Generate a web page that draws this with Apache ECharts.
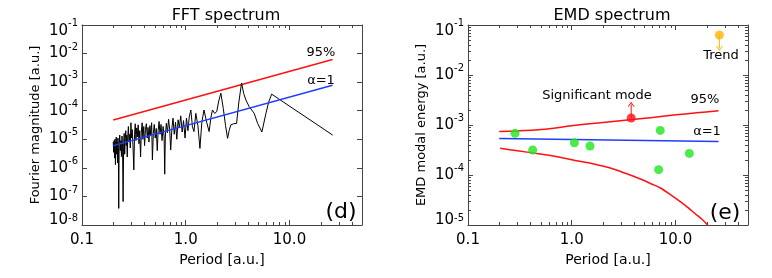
<!DOCTYPE html>
<html><head><meta charset="utf-8">
<script src="https://cdn.jsdelivr.net/npm/echarts@6/dist/echarts.min.js"></script>
<style>html,body{margin:0;padding:0;background:#fff}#c{width:772px;height:278px}</style>
</head><body><div id="c"></div>
<script>
// ---------- data ----------
const fftPeriod = [
 0.200,0.202,0.204,0.206,0.208,0.210,0.212,0.214,0.216,0.218,
 0.220,0.222,0.224,0.226,0.228,0.231,0.234,0.237,0.240,0.243,
 0.246,0.249,0.252,0.255,0.258,0.261,0.264,0.267,0.270,0.273,
 0.276,0.280,0.284,0.288,0.292,0.296,0.300,0.305,0.310,0.316,
 0.321,0.326,0.331,0.337,0.342,0.348,0.354,0.360,0.367,0.373,
 0.380,0.386,0.394,0.401,0.409,0.417,0.426,0.433,0.442,0.451,
 0.460,0.469,0.477,0.487,0.497,0.508,0.520,0.531,0.542,0.553,
 0.565,0.578,0.591,0.605,0.619,0.627,0.636,0.650,0.666,0.683,
 0.700,0.716,0.736,0.754,0.775,0.797,0.820,0.844,0.868,0.895,
 0.923,0.952,0.985,1.016,1.05,1.08,1.12,1.16,1.20,1.25,
 1.31,1.37,1.43,1.50,1.59,1.68,1.75,1.81,1.90,1.99,
 2.08,2.18,2.30,2.42,2.53,2.62,2.72,2.90,3.09,3.25,
 3.45,3.62,3.80,4.09,4.57,4.93,5.42,5.93,6.30,6.73,
 26.1];
const fftMag = [
 8e-6,3.5e-6,9e-6,2.2e-6,1.0e-5,1.3e-6,7e-6,1.2e-5,3e-6,8e-6,
 1.5e-6,1.1e-5,5e-6,3.8e-8,6e-6,1.4e-5,4e-6,9e-6,2.5e-6,1.3e-5,
 5e-6,6.6e-8,7e-6,1.6e-5,3e-6,1.1e-5,2e-5,6e-6,1.4e-5,2.4e-6,
 1.2e-5,2.8e-5,8e-6,1.5e-5,5e-6,3.8e-5,1.1e-5,2.2e-5,6e-6,8.5e-7,
 1.5e-5,3.5e-5,9e-6,2.5e-5,1.2e-5,3.2e-5,7e-6,2e-5,2.4e-6,1.8e-5,
 3.8e-5,1e-5,2.8e-5,6e-6,2.2e-5,3.5e-5,1.1e-5,2.6e-5,8e-6,3e-5,
 1.4e-5,3.8e-5,1.9e-6,1.6e-5,3.3e-5,1.1e-5,2.4e-5,4e-6,2e-5,4.2e-5,
 1.5e-5,3.3e-5,9e-6,2.8e-5,1.2e-5,6e-7,1.3e-5,3.6e-5,1.7e-5,5e-5,
 2.2e-5,4.2e-6,2.5e-5,5.5e-5,1.5e-5,4e-5,1e-5,4.8e-5,2.5e-5,6.6e-5,
 1.8e-5,4.5e-5,1.1e-5,5.5e-5,2e-5,6e-5,1.06e-4,2.75e-5,1.86e-5,8.1e-5,
 3e-5,4.8e-6,4e-5,1.06e-4,4e-5,1.86e-5,6e-5,1.06e-4,8e-5,9.3e-5,
 2.2e-4,4.1e-4,1.2e-4,3e-5,1.08e-5,2e-5,3.2e-5,3.5e-5,3.6e-5,2e-4,
 9.3e-4,4e-4,2.37e-4,1.38e-4,8.1e-5,3.6e-5,1.8e-5,8.1e-5,2e-4,3.8e-4,
 1.4e-5];
const fftAlphaPeriod = [0.2, 26];
const fftAlphaMag = [6.0e-6, 7.8e-4];
const fft95Period = [0.2, 26];
const fft95Mag = [4.7e-5, 6.2e-3];

const emdModePeriod = [0.284, 0.42, 1.06, 1.5, 6.88, 7.13, 13.6];
const emdModeEnergy = [6.8e-4, 3.16e-4, 4.4e-4, 3.8e-4, 1.28e-4, 7.8e-4, 2.7e-4];
const sigPeriod = [3.74];
const sigEnergy = [1.38e-3];
const sigArrowTip = [2.6e-3];
const trendPeriod = [26.5];
const trendEnergy = [6.3e-2];
const trendArrowTip = [3.4e-2];
const emdAlphaPeriod = [0.2, 26];
const emdAlphaEnergy = [5.4e-4, 4.7e-4];
const emdUpperPeriod = [0.2, 0.3, 0.44, 0.7, 1.03, 1.8, 3.44, 6.0, 9.6, 16, 26];
const emdUpperEnergy = [7.4e-4, 7.6e-4, 7.9e-4, 8.7e-4, 9.8e-4, 1.1e-3, 1.26e-3, 1.42e-3, 1.58e-3, 1.75e-3, 1.93e-3];
const emdLowerPeriod = [0.204, 0.3, 0.497, 0.75, 1.03, 1.6, 2.35, 3.3, 4.59, 5.8, 7.16, 9.0, 11.2, 13.3, 15.6, 18.0, 20.4, 23];
const emdLowerEnergy = [3.42e-4, 3.05e-4, 2.63e-4, 2.3e-4, 2.0e-4, 1.68e-4, 1.38e-4, 1.08e-4, 8.3e-5, 6.7e-5, 5.5e-5, 4.0e-5, 2.9e-5, 2.2e-5, 1.66e-5, 1.3e-5, 1.0e-5, 7.5e-6];

const xTickValues = [0.1, 1, 10];
const xTickLabels = ['0.1', '1.0', '10.0'];
const xMinorTicks = [0.2,0.3,0.4,0.5,0.6,0.7,0.8,0.9,2,3,4,5,6,7,8,9,20,30,40,50];
const emdYMinorTicks = [2e-5,3e-5,4e-5,5e-5,6e-5,7e-5,8e-5,9e-5,
  2e-4,3e-4,4e-4,5e-4,6e-4,7e-4,8e-4,9e-4,
  2e-3,3e-3,4e-3,5e-3,6e-3,7e-3,8e-3,9e-3,
  2e-2,3e-2,4e-2,5e-2,6e-2,7e-2,8e-2,9e-2];

// ---------- styling helpers ----------
const FONT = 'DejaVu Sans';
const AX = '#444';
const zip = (a, b) => a.map((v, i) => [v, b[i]]);

function xLabel(v) {
  for (let i = 0; i < xTickValues.length; i++) {
    if (Math.abs(Math.log10(v) - Math.log10(xTickValues[i])) < 1e-6) return xTickLabels[i];
  }
  return '';
}
function yLabelFor(ymin, ymax) {
  const emin = Math.round(Math.log10(ymin)), emax = Math.round(Math.log10(ymax));
  return function (v) {
    const e = Math.round(Math.log10(v));
    const tag = e === emin ? 'min' : (e === emax ? 'max' : '');
    return '{b' + tag + '|10}{s' + tag + '|' + (e < 0 ? '-' : '') + Math.abs(e) + '}';
  };
}
const bs = {fontSize: 15, fontFamily: FONT, color: '#000'};
const ss = {fontSize: 10, fontFamily: FONT, color: '#000', verticalAlign: 'top'};
const yRich = {
  b: Object.assign({padding: [4, 0, 4, 0]}, bs),
  s: Object.assign({}, ss),
  bmin: Object.assign({padding: [0, 0, 10, 0]}, bs),
  smin: Object.assign({padding: [1, 0, 0, 0]}, ss),
  bmax: Object.assign({padding: [12, 0, 0, 0]}, bs),
  smax: Object.assign({padding: [7, 0, 0, 0]}, ss)
};

function makeX(grid, pos, name, xmin, xmax) {
  const main = pos === 'bottom';
  return {
    gridIndex: grid, type: 'log', logBase: 10, min: xmin, max: xmax, position: pos,
    axisLine: {show: true, lineStyle: {color: AX, width: 1}},
    axisTick: {show: true, inside: true, length: 5, lineStyle: {color: AX, width: 1}},
    axisLabel: {show: main, formatter: xLabel, fontSize: 15, fontFamily: FONT, color: '#000', margin: 8, showMaxLabel: false},
    splitLine: {show: false}, minorTick: {show: false},
    name: main ? name : '', nameLocation: 'middle', nameGap: 26,
    nameTextStyle: {fontSize: 14, fontFamily: FONT, color: '#000'}
  };
}
function makeY(grid, pos, name, ymin, ymax) {
  const main = pos === 'left';
  return {
    gridIndex: grid, type: 'log', logBase: 10, min: ymin, max: ymax, position: pos,
    axisLine: {show: true, lineStyle: {color: AX, width: 1}},
    axisTick: {show: true, inside: true, length: 5, lineStyle: {color: AX, width: 1}},
    axisLabel: {show: main, formatter: yLabelFor(ymin, ymax), rich: yRich, margin: 4,
      showMinLabel: true, showMaxLabel: true, hideOverlap: false},
    splitLine: {show: false}, minorTick: {show: false},
    name: main ? name : '', nameLocation: 'middle', nameGap: 40, nameRotate: 90,
    nameTextStyle: {fontSize: 13, fontFamily: FONT, color: '#000'}
  };
}

function minorX(params, api) {
  const cs = params.coordSys;
  const px = Math.round(api.coord([api.value(0), api.value(1)])[0]) + 0.5;
  const st = {stroke: AX, lineWidth: 1};
  return {type: 'group', children: [
    {type: 'line', shape: {x1: px, y1: cs.y + cs.height, x2: px, y2: cs.y + cs.height - 3}, style: st},
    {type: 'line', shape: {x1: px, y1: cs.y, x2: px, y2: cs.y + 3}, style: st}
  ]};
}
function minorY(params, api) {
  const cs = params.coordSys;
  const py = Math.round(api.coord([api.value(0), api.value(1)])[1]) + 0.5;
  const st = {stroke: AX, lineWidth: 1};
  return {type: 'group', children: [
    {type: 'line', shape: {x1: cs.x, y1: py, x2: cs.x + 3, y2: py}, style: st},
    {type: 'line', shape: {x1: cs.x + cs.width, y1: py, x2: cs.x + cs.width - 3, y2: py}, style: st}
  ]};
}

const chevronUp = 'path://M0,8 L5,0 L10,8 L8.6,8 L5,2.4 L1.4,8 Z';

const chart = echarts.init(document.getElementById('c'), null, {renderer: 'canvas'});
chart.setOption({
  animation: false,
  backgroundColor: '#fff',
  title: [
    {text: 'FFT spectrum', left: 221, top: 3, textAlign: 'center',
     textStyle: {fontSize: 16, fontWeight: 'normal', fontFamily: FONT, color: '#000'}},
    {text: 'EMD spectrum', left: 607, top: 3, textAlign: 'center',
     textStyle: {fontSize: 16, fontWeight: 'normal', fontFamily: FONT, color: '#000'}}
  ],
  grid: [
    {left: 82, top: 25, width: 280, height: 200},
    {left: 468, top: 25, width: 280, height: 200}
  ],
  xAxis: [
    makeX(0, 'bottom', 'Period [a.u.]', 0.1, 50),
    makeX(0, 'top', '', 0.1, 50),
    makeX(1, 'bottom', 'Period [a.u.]', 0.1, 50),
    makeX(1, 'top', '', 0.1, 50)
  ],
  yAxis: [
    makeY(0, 'left', 'Fourier magnitude [a.u.]', 1e-8, 1e-1),
    makeY(0, 'right', '', 1e-8, 1e-1),
    makeY(1, 'left', 'EMD modal energy [a.u.]', 1e-5, 1e-1),
    makeY(1, 'right', '', 1e-5, 1e-1)
  ],
  series: [
    // ---- FFT panel ----
    {type: 'line', xAxisIndex: 0, yAxisIndex: 0, data: zip(fftPeriod, fftMag),
     showSymbol: false, lineStyle: {color: '#000', width: 1}, clip: true, z: 3},
    {type: 'line', xAxisIndex: 0, yAxisIndex: 0, data: zip(fft95Period, fft95Mag),
     showSymbol: false, lineStyle: {color: '#ff1010', width: 1.5}, z: 2},
    {type: 'line', xAxisIndex: 0, yAxisIndex: 0, data: zip(fftAlphaPeriod, fftAlphaMag),
     showSymbol: false, lineStyle: {color: '#1f3dff', width: 1.5}, z: 4},
    {type: 'custom', xAxisIndex: 0, yAxisIndex: 0, renderItem: minorX,
     data: xMinorTicks.map(v => [v, 1e-8]), silent: true, clip: false},
    // ---- EMD panel ----
    {type: 'line', xAxisIndex: 2, yAxisIndex: 2, data: zip(emdUpperPeriod, emdUpperEnergy),
     showSymbol: false, smooth: 0.3, lineStyle: {color: '#ff1010', width: 1.5}, z: 2},
    {type: 'line', xAxisIndex: 2, yAxisIndex: 2, data: zip(emdLowerPeriod, emdLowerEnergy),
     showSymbol: false, smooth: 0.3, clip: true, lineStyle: {color: '#ff1010', width: 1.5}, z: 2},
    {type: 'line', xAxisIndex: 2, yAxisIndex: 2, data: zip(emdAlphaPeriod, emdAlphaEnergy),
     showSymbol: false, lineStyle: {color: '#1f3dff', width: 1.5}, z: 2},
    {type: 'scatter', xAxisIndex: 2, yAxisIndex: 2, data: zip(emdModePeriod, emdModeEnergy),
     symbol: 'circle', symbolSize: 9, itemStyle: {color: '#1fe61f'}, z: 5},
    {type: 'line', xAxisIndex: 2, yAxisIndex: 2,
     data: [{value: [sigPeriod[0], sigEnergy[0]], symbol: 'none'},
            {value: [sigPeriod[0], sigArrowTip[0]], symbol: chevronUp, symbolSize: [7, 5]}],
     showSymbol: true, lineStyle: {color: '#ff1010', width: 1}, itemStyle: {color: '#ff1010'}, z: 4},
    {type: 'scatter', xAxisIndex: 2, yAxisIndex: 2, data: zip(sigPeriod, sigEnergy),
     symbol: 'circle', symbolSize: 9, itemStyle: {color: '#ff1010'}, z: 5},
    {type: 'line', xAxisIndex: 2, yAxisIndex: 2,
     data: [{value: [trendPeriod[0], trendEnergy[0]], symbol: 'none'},
            {value: [trendPeriod[0], trendArrowTip[0]], symbol: chevronUp, symbolRotate: 180, symbolSize: [7, 5]}],
     showSymbol: true, lineStyle: {color: '#ffb400', width: 1}, itemStyle: {color: '#ffb400'}, z: 4},
    {type: 'scatter', xAxisIndex: 2, yAxisIndex: 2, data: zip(trendPeriod, trendEnergy),
     symbol: 'circle', symbolSize: 9, itemStyle: {color: '#ffb400'}, z: 5},
    {type: 'custom', xAxisIndex: 2, yAxisIndex: 2, renderItem: minorX,
     data: xMinorTicks.map(v => [v, 1e-5]), silent: true, clip: false},
    {type: 'custom', xAxisIndex: 2, yAxisIndex: 2, renderItem: minorY,
     data: emdYMinorTicks.map(v => [0.1, v]), silent: true, clip: false}
  ],
  graphic: [
    {type: 'text', x: 321, y: 53, style: {text: '95%', fontSize: 13, fontFamily: FONT, fill: '#000', align: 'center', verticalAlign: 'middle'}},
    {type: 'text', x: 321, y: 81, style: {text: 'α=1', fontSize: 13, fontFamily: FONT, fill: '#000', align: 'center', verticalAlign: 'middle'}},
    {type: 'text', x: 341, y: 212, style: {text: '(d)', fontSize: 22, fontFamily: FONT, fill: '#000', align: 'center', verticalAlign: 'middle'}},
    {type: 'text', x: 597, y: 96, style: {text: 'Significant mode', fontSize: 13, fontFamily: FONT, fill: '#000', align: 'center', verticalAlign: 'middle'}},
    {type: 'text', x: 705, y: 100, style: {text: '95%', fontSize: 13, fontFamily: FONT, fill: '#000', align: 'center', verticalAlign: 'middle'}},
    {type: 'text', x: 707, y: 132, style: {text: 'α=1', fontSize: 13, fontFamily: FONT, fill: '#000', align: 'center', verticalAlign: 'middle'}},
    {type: 'text', x: 721, y: 56, style: {text: 'Trend', fontSize: 13, fontFamily: FONT, fill: '#000', align: 'center', verticalAlign: 'middle'}},
    {type: 'text', x: 725, y: 213, style: {text: '(e)', fontSize: 22, fontFamily: FONT, fill: '#000', align: 'center', verticalAlign: 'middle'}}
  ]
});
</script></body></html>
